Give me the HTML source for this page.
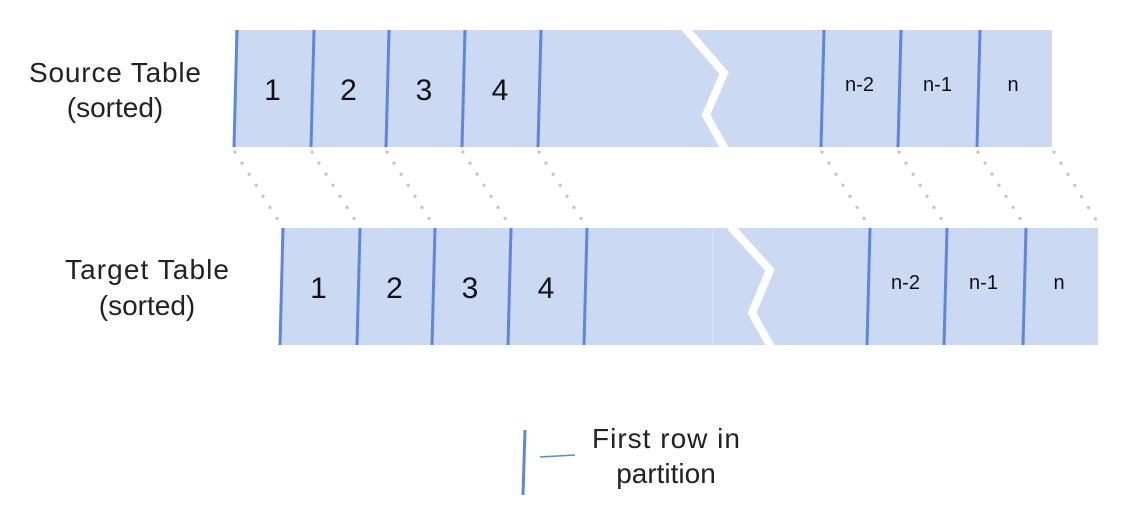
<!DOCTYPE html>
<html><head><meta charset="utf-8"><style>
html,body{margin:0;padding:0;background:#fff;}
svg{display:block;font-family:"Liberation Sans",Arial,sans-serif;}
</style></head><body>
<svg width="1128" height="522" viewBox="0 0 1128 522">
<g id="src">
<rect x="235" y="30" width="817" height="117" fill="#cbd9f3"/>
<polyline points="685,28 724,73 706,115 725,149" fill="none" stroke="#fff" stroke-width="8"/>
</g>
<g id="tgt">
<rect x="281" y="228" width="817" height="117" fill="#cbd9f3"/>
<line x1="713" y1="228" x2="713" y2="345" stroke="#dfe8f8" stroke-width="1"/>
<polyline points="730,226 770,270 752,313 771,347" fill="none" stroke="#fff" stroke-width="8"/>
</g>
<g id="marks"></g>
<text x="115" y="82" font-size="28" text-anchor="middle" fill="#222" textLength="172">Source Table</text>
<text x="115" y="117" font-size="28" text-anchor="middle" fill="#222">(sorted)</text>
<text x="147" y="279" font-size="28" text-anchor="middle" fill="#222" textLength="164">Target Table</text>
<text x="147" y="315" font-size="28" text-anchor="middle" fill="#222">(sorted)</text>
<line x1="525" y1="430" x2="523" y2="495" stroke="#5b87e0" stroke-width="3"/>
<line x1="540" y1="457" x2="575" y2="455" stroke="#5b87e0" stroke-width="1.5"/>
<text x="666" y="448" font-size="28" text-anchor="middle" fill="#222" textLength="148">First row in</text>
<text x="666" y="483" font-size="28" text-anchor="middle" fill="#222">partition</text>
</svg>
<script>
const partitionLabels=["1","2","3","4","","n-2","n-1","n"];
const srcTop=[237,314,389,465,541,824,901,980];
const NS="http://www.w3.org/2000/svg";
const g=document.getElementById('marks');
const dx=46, dy=198;
function mk(tag,attrs){const e=document.createElementNS(NS,tag);for(const k in attrs)e.setAttribute(k,attrs[k]);g.appendChild(e);return e;}
srcTop.forEach((x,i)=>{
  const next=srcTop[i+1]!==undefined?srcTop[i+1]:1052;
  const d=mk('line',{x1:x-2,y1:152,x2:x+dx-3,y2:223,stroke:'#c4c4c4','stroke-width':3.2,'stroke-dasharray':'0.1 13','stroke-linecap':'round'});
  
  
  [[0,30,147],[dx,228,345]].forEach(([o,t,b],k)=>{
    const l=mk('line',{x1:x+o,y1:t,x2:x+o-3,y2:b,stroke:'#5b87e0','stroke-width':3});
    
    
    if(partitionLabels[i]){
      const big=i<4;
      const tx=mk('text',{x:(x+next)/2+o-3,y:(big?100:91)+(k?dy:0),'font-size':big?30:20,'text-anchor':'middle',fill:'#111'});
      tx.textContent=partitionLabels[i];
      
      
    }
  });
});
const e=mk('line',{x1:1054,y1:152,x2:1098,y2:223,stroke:'#c4c4c4','stroke-width':3.2,'stroke-dasharray':'0.1 13','stroke-linecap':'round'});


</script>
</body></html>
